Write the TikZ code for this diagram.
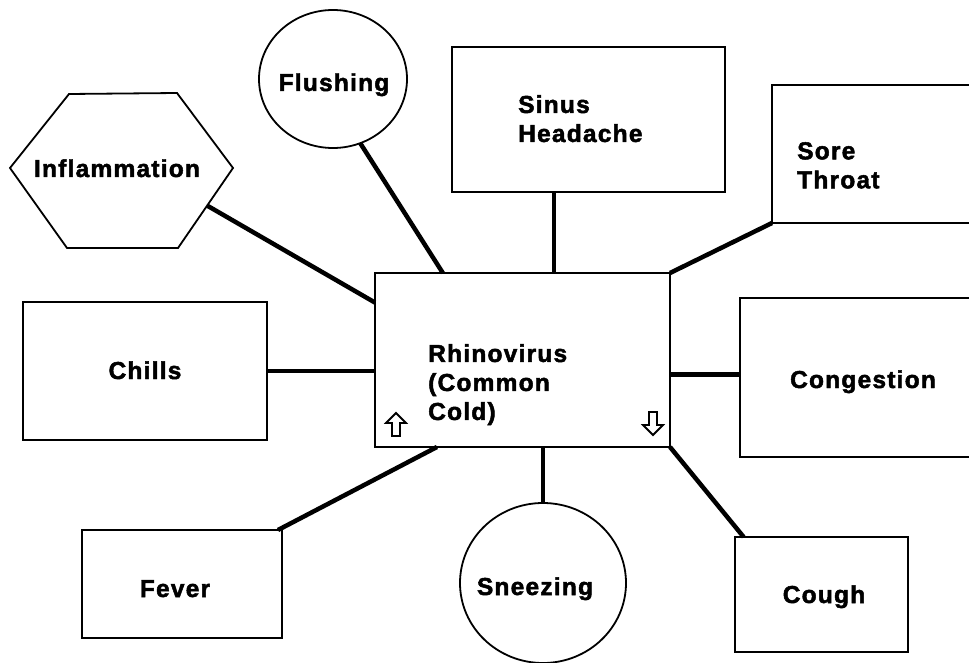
\documentclass[tikz,border=0pt]{standalone}
\usepackage{fontspec}
\newfontfamily\lblfont[LetterSpace=5,FakeBold=2]{Liberation Sans Bold}
\usetikzlibrary{shapes.geometric,calc}

\begin{document}
\begin{tikzpicture}[x=1pt,y=-1pt,
  box/.style={draw, line width=2.5pt, rectangle, inner sep=0pt, outer sep=0pt},
  blob/.style={draw, ellipse, line width=1.8pt, inner sep=0pt, outer sep=0pt},
  link/.style={line width=4.5pt},
  stem/.style={line width=3.5pt},
  lbl/.style={font=\lblfont\fontsize{24.5}{29}\selectfont, inner sep=0pt, align=left},
  hollowarrow/.style={draw, line width=1.8pt, fill=white, line join=miter}]

  \useasboundingbox (0,0) rectangle (969,663);
  \clip (0,0) rectangle (969,663);

  % central box
  \node[box, minimum width=295pt, minimum height=174pt] (cold) at (522.5,360) {};
  \node[lbl, anchor=north west] (coldtxt) at (428,344) {Rhinovirus\\(Common\\Cold)};

  % symptom boxes
  \node[box, minimum width=273pt, minimum height=145pt] (sinus) at (588.5,119.5) {};
  \node[lbl, anchor=north west] (sinustxt) at (518,95) {Sinus\\Headache};

  \node[box, minimum width=228pt, minimum height=138pt] (sore) at (886,154) {};
  \node[lbl, anchor=north west] (soretxt) at (797,142) {Sore\\Throat};

  \node[box, minimum width=244pt, minimum height=138pt] (chills) at (145,371) {};
  \node[lbl, anchor=base] (chillstxt) at (145,379) {Chills};

  \node[box, minimum width=260pt, minimum height=159pt] (cong) at (870,377.5) {};
  \node[lbl, anchor=base] (congtxt) at (863,388) {Congestion};

  \node[box, minimum width=173pt, minimum height=115pt] (cough) at (821.5,594.5) {};
  \node[lbl, anchor=base] (coughtxt) at (824,603) {Cough};

  \node[box, minimum width=200pt, minimum height=108pt] (fever) at (182,584) {};
  \node[lbl, anchor=base] (fevertxt) at (175,597) {Fever};

  % round symptoms
  \node[blob, minimum width=148pt, minimum height=138pt] (flush) at (333,79) {};
  \node[lbl, anchor=base] (flushtxt) at (334,91) {Flushing};

  \node[blob, minimum width=166pt, minimum height=160pt] (sneeze) at (543,583) {};
  \node[lbl, anchor=base] (sneezetxt) at (535,595) {Sneezing};

  % hexagon
  \coordinate (hxL) at (10,168);
  \coordinate (hxTL) at (69,94);
  \coordinate (hxTR) at (177,93);
  \coordinate (hxR) at (233,168);
  \coordinate (hxBR) at (178,248);
  \coordinate (hxBL) at (67,248);
  \draw[line width=1.8pt, line join=miter] (hxL) -- (hxTL) -- (hxTR) -- (hxR) -- (hxBR) -- (hxBL) -- cycle;
  \node[lbl, anchor=base] (infl) at (117,177) {Inflammation};
  \coordinate (hxC) at ($(hxR)!0.47!(hxBR)$);

  % connectors
  \draw[link] (hxC) -- ($(cold.north west)!0.17!(cold.south west)$);
  \draw[link] (flush.-67) -- ($(cold.north west)!0.23!(cold.north east)$);
  \coordinate (sinusfoot) at ($(sinus.south west)!0.374!(sinus.south east)$);
  \draw[stem] (sinusfoot) -- (sinusfoot |- cold.north);
  \draw[link] (sore.south west) -- (cold.north east);
  \draw[stem] (chills.east) -- (chills.east -| cold.west);
  \coordinate (congfoot) at ($(cong.north west)!0.48!(cong.south west)$);
  \draw[link] (congfoot) -- (congfoot -| cold.east);
  \draw[link] (cold.south east) -- ($(cough.north west)!0.05!(cough.north east)$);
  \draw[stem] (sneeze.north) -- (sneeze.north |- cold.south);
  \draw[link] ($(fever.north west)!0.98!(fever.north east)$) -- ($(cold.south west)!0.21!(cold.south east)$);

  % hollow scroll arrows inside the central box
  \coordinate (upA) at (396,425);
  \draw[hollowarrow] ($(upA)+(0,-12)$) -- ($(upA)+(10,-2)$) -- ($(upA)+(4,-2)$) -- ($(upA)+(4,11)$)
     -- ($(upA)+(-4,11)$) -- ($(upA)+(-4,-2)$) -- ($(upA)+(-10,-2)$) -- cycle;
  \coordinate (dnA) at (653,423);
  \draw[hollowarrow] ($(dnA)+(0,12)$) -- ($(dnA)+(10,2)$) -- ($(dnA)+(4,2)$) -- ($(dnA)+(4,-11)$)
     -- ($(dnA)+(-4,-11)$) -- ($(dnA)+(-4,2)$) -- ($(dnA)+(-10,2)$) -- cycle;
\end{tikzpicture}
\end{document}
